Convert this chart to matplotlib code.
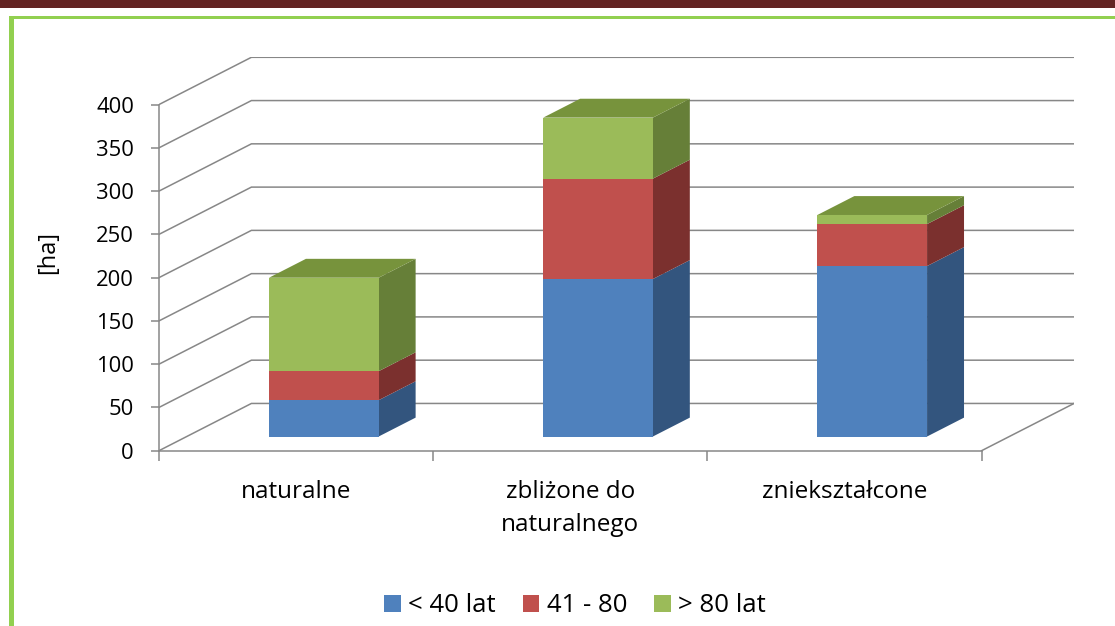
import matplotlib.pyplot as plt
from matplotlib.patches import Polygon, Rectangle, Patch
import numpy as np

plt.rcParams['font.family'] = ['Open Sans', 'DejaVu Sans']

# stacked areas [ha] per forest naturalness class
categories = ['naturalne', 'zbliżone do\nnaturalnego', 'zniekształcone']
series_names = ['< 40 lat', '41 - 80', '> 80 lat']
age_lt40 = [42, 182, 197]
age_41_80 = [33.5, 116, 48.5]
age_gt80 = [108, 70.5, 10.5]
yticks = [0, 50, 100, 150, 200, 250, 300, 350, 400]

front_cols = ['#4F81BD', '#C0504D', '#9BBB59']
side_cols = ['#33557E', '#7B302E', '#667F38']
top_cols = ['#3F6797', '#99403D', '#77933C']
grid_col = '#878787'

# oblique "3d" projection: depth z in [0, 1] shifts right and up
DX = 0.337
DY = 54.6

def proj(x, y, z):
    return (x + z * DX, y + z * DY)

fig = plt.figure(figsize=(11.15, 6.26), dpi=100)
W, H = 1115, 626
ax = fig.add_axes([159 / W, (H - 450.7) / H, (1074 - 159) / W, (450.7 - 57.3) / H])
ax.set_xlim(0, 3 + DX)
ax.set_ylim(0, 400 + DY)

# side wall and back wall gridlines
for v in yticks:
    p0, p1 = proj(0, v, 0), proj(0, v, 1)
    p2 = proj(3, v, 1)
    ax.plot([p0[0], p1[0], p2[0]], [p0[1], p1[1], p2[1]], color=grid_col, lw=1.1,
            solid_joinstyle='miter', zorder=1)

# floor edges
f0, f1 = proj(3, 0, 0), proj(3, 0, 1)
ax.plot([f0[0], f1[0]], [f0[1], f1[1]], color=grid_col, lw=1.1, zorder=1)

# axes: left spine is the front value axis, bottom spine is the floor front edge
for s in ['top', 'right']:
    ax.spines[s].set_visible(False)
for s in ['left', 'bottom']:
    ax.spines[s].set_color(grid_col)
    ax.spines[s].set_linewidth(1.1)
ax.spines['left'].set_bounds(0, 400)
ax.spines['bottom'].set_bounds(0, 3)
ax.set_yticks(yticks)
ax.set_yticklabels([str(v) for v in yticks], fontsize=15.8)
ax.tick_params(axis='y', length=6, width=1.1, color=grid_col, pad=12)
ax.set_xticks([0, 1, 2, 3])
ax.set_xticklabels([])
ax.tick_params(axis='x', which='major', length=7, width=1.1, color=grid_col)
ax.set_xticks([0.5, 1.5, 2.5], minor=True)
ax.set_xticklabels(categories, minor=True, fontsize=17.5, linespacing=1.52)
ax.tick_params(axis='x', which='minor', length=0, pad=21)
ax.patch.set_visible(False)

ax.set_ylabel('[ha]', fontsize=17)
ax.yaxis.set_label_coords(-0.108, 0.505)

# bars
stack = np.array([age_lt40, age_41_80, age_gt80])
bw = 0.4
z0, z1 = 0.3, 0.7
for i in range(len(categories)):
    x0, x1 = i + 0.5 - bw / 2, i + 0.5 + bw / 2
    base = 0
    for k in range(3):
        top = base + stack[k, i]
        front = [proj(x0, base, z0), proj(x1, base, z0), proj(x1, top, z0), proj(x0, top, z0)]
        side = [proj(x1, base, z0), proj(x1, base, z1), proj(x1, top, z1), proj(x1, top, z0)]
        ax.add_patch(Polygon(side, closed=True, fc=side_cols[k], ec='none', zorder=3))
        ax.add_patch(Polygon(front, closed=True, fc=front_cols[k], ec='none', zorder=4))
        if k == 2:
            lid = [proj(x0, top, z0), proj(x1, top, z0), proj(x1, top, z1), proj(x0, top, z1)]
            ax.add_patch(Polygon(lid, closed=True, fc=top_cols[k], ec='none', zorder=3))
        base = top

handles = [Patch(fc=c, ec='none') for c in front_cols]
fig.legend(handles, series_names, loc='center', bbox_to_anchor=(575 / W, 1 - 606 / H),
           ncol=3, frameon=False, fontsize=18.5, handlelength=0.65, handleheight=0.65,
           handletextpad=0.28, columnspacing=1.05)

# page border: dark red band and green frame
fig.add_artist(Rectangle((0, 1 - 8.3 / H), 1, 8.3 / H, transform=fig.transFigure,
                         fc='#632423', ec='none'))
fig.add_artist(Rectangle((9 / W, 1 - 19 / H), 1, 3.3 / H, transform=fig.transFigure,
                         fc='#92D050', ec='none'))
fig.add_artist(Rectangle((9 / W, 0), 4.5 / W, 1 - 15.7 / H, transform=fig.transFigure,
                         fc='#92D050', ec='none'))

fig.savefig('out.png', dpi=100)
